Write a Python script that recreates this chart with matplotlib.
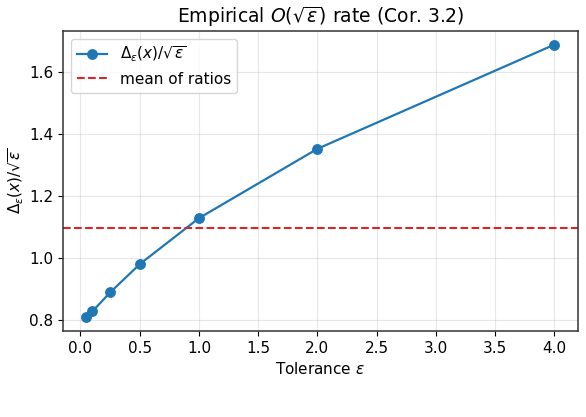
import numpy as np
import matplotlib
matplotlib.use("Agg")
import matplotlib.pyplot as plt

# tolerance values and measured ratio Delta_eps(x)/sqrt(eps)
eps = [0.05, 0.1, 0.25, 0.5, 1.0, 2.0, 4.0]
ratios = [0.810, 0.829, 0.890, 0.981, 1.129, 1.352, 1.687]

mean_ratio = np.mean(ratios)

fig = plt.figure(figsize=(5.86, 4.17), dpi=100)
ax = fig.add_axes([0.1075, 0.2062, 0.8785, 0.7195])

ax.plot(eps, ratios, marker='o', color='#1f77b4', linewidth=1.6, markersize=6.8,
        label=r'$\Delta_\varepsilon(x)/\sqrt{\varepsilon}$')
ax.axhline(mean_ratio, color='#d62728', linestyle='--', linewidth=1.5, label='mean of ratios')

ax.set_title(r'Empirical $O(\sqrt{\varepsilon})$ rate (Cor. 3.2)', fontsize=13.5)
ax.set_xlabel(r'Tolerance $\varepsilon$', fontsize=11)
ax.set_ylabel(r'$\Delta_\varepsilon(x)/\sqrt{\varepsilon}$', fontsize=11, labelpad=2)
ax.set_xticks(np.arange(0, 4.01, 0.5))
ax.set_yticks([0.8, 1.0, 1.2, 1.4, 1.6])
ax.tick_params(labelsize=11)
for s in ax.spines.values():
    s.set_linewidth(1.1)
    s.set_color('#333333')
ax.grid(True, alpha=0.3)
ax.legend(loc='upper left', fontsize=11)

fig.savefig('out.png', dpi=100)
